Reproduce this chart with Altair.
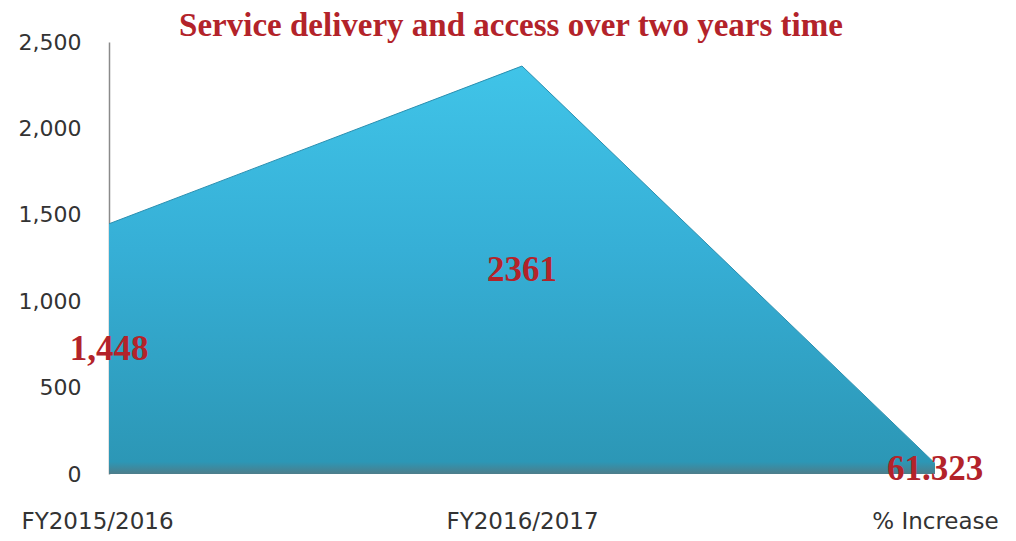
import altair as alt
import pandas as pd

categories = ["FY2015/2016", "FY2016/2017", "% Increase"]
values = [1448, 2361, 61.323]
labels = ["1,448", "2361", "61.323"]

df = pd.DataFrame({"cat": categories, "val": values, "lab": labels})

x = alt.X("cat:N", sort=categories, scale=alt.Scale(type="point", padding=0),
          axis=alt.Axis(title=None, labelAngle=0, domain=False, ticks=False,
                        labelPadding=36, labelFontSize=23, labelColor="#333333",
                        labelFont="DejaVu Sans",
                        labelOffset=alt.ExprRef(expr="datum.value == 'FY2015/2016' ? -12 : 0")))
y = alt.Y("val:Q", scale=alt.Scale(domain=[0, 2500], nice=False),
          axis=alt.Axis(title=None, grid=False, ticks=False, values=[0, 500, 1000, 1500, 2000, 2500],
                        format=",.0f", labelPadding=28, labelFontSize=22, labelColor="#333333",
                        labelFont="DejaVu Sans", domainColor="#8a8a8a", domainWidth=1.5))

area = alt.Chart(df).mark_area(
    opacity=1,
    color=alt.Gradient(
        gradient="linear",
        stops=[alt.GradientStop(color="#40c4e8", offset=0),
               alt.GradientStop(color="#36afd6", offset=0.45),
               alt.GradientStop(color="#2c97b6", offset=0.97),
               alt.GradientStop(color="#4d7d8a", offset=1)],
        x1=0, x2=0, y1=0, y2=1),
    line={"color": "#2a8fb0", "strokeWidth": 1}
).encode(x=x, y=y)

text = alt.Chart(df).transform_calculate(half="datum.val / 2").mark_text(
    font="Liberation Serif", fontWeight="bold", fontSize=35, color="#b3232a"
).encode(x=alt.X("cat:N", sort=categories), y=alt.Y("half:Q"), text="lab:N")

chart = alt.layer(area, text).properties(
    width=826, height=432,
    autosize=alt.AutoSizeParams(type="none"),
    padding={"left": 101, "top": 34, "right": 70, "bottom": 58},
    title=alt.TitleParams("Service delivery and access over two years time",
                          font="Liberation Serif", fontWeight="bold", fontSize=33,
                          color="#b3232a", anchor="middle", offset=4, dx=-11, dy=16)
).configure_view(stroke=None)

chart.save("out.html", embed_options={"renderer": "svg", "actions": False})
